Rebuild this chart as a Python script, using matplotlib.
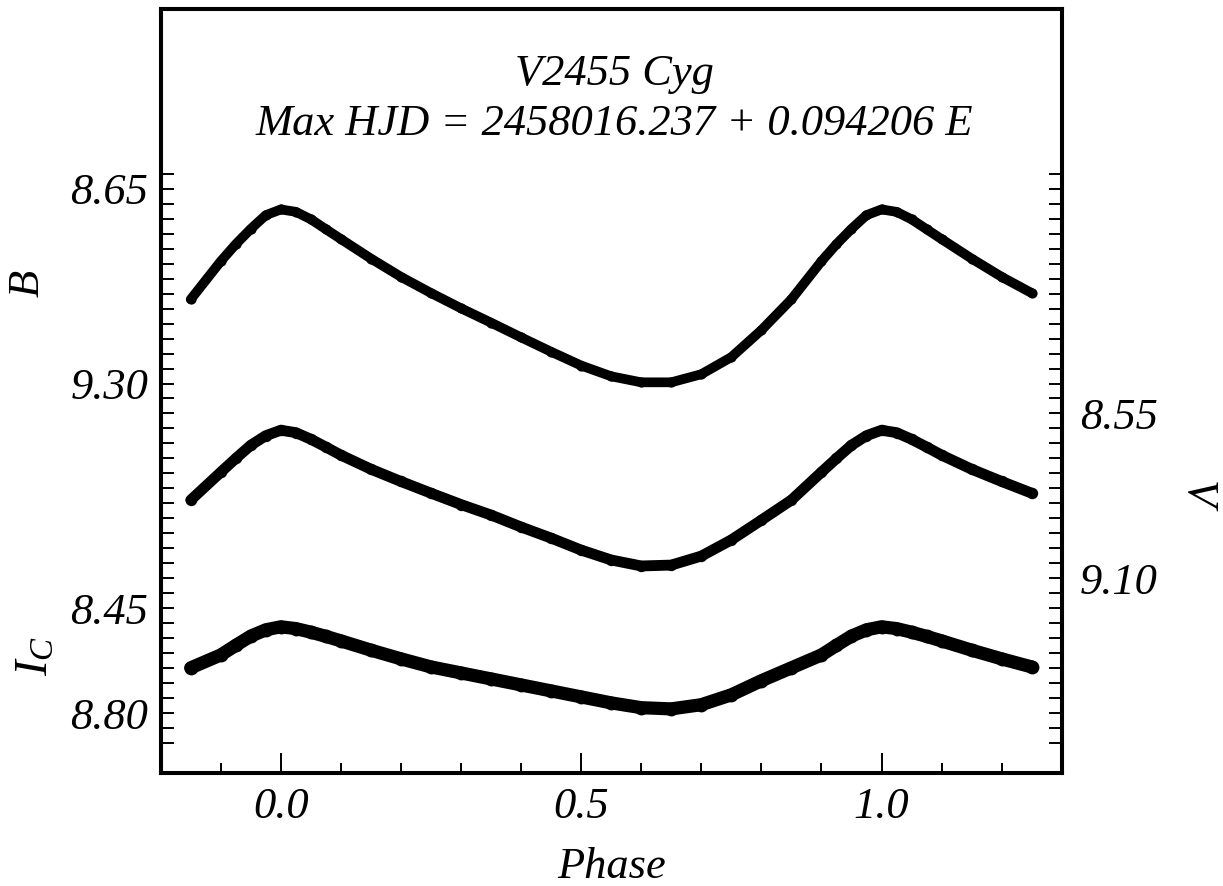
import numpy as np
import matplotlib
matplotlib.use("Agg")
import matplotlib.pyplot as plt
from matplotlib.ticker import FixedLocator, NullFormatter

plt.rcParams['font.family'] = ['Liberation Serif', 'DejaVu Serif']
plt.rcParams['font.style'] = 'italic'
plt.rcParams['mathtext.fontset'] = 'custom'
plt.rcParams['mathtext.it'] = 'Liberation Serif:italic'
plt.rcParams['mathtext.rm'] = 'Liberation Serif:italic'

# ---- data (one cycle, phase 0..1) ----
phase = [0.0, 0.025, 0.05, 0.075, 0.10, 0.15, 0.20, 0.25, 0.30, 0.35, 0.40, 0.45,
         0.50, 0.55, 0.60, 0.65, 0.70, 0.75, 0.80, 0.85, 0.90, 0.925, 0.95, 0.975]
mag_B = [8.719, 8.727, 8.752, 8.785, 8.818, 8.883, 8.944, 8.998, 9.049, 9.097, 9.146, 9.194,
         9.240, 9.276, 9.296, 9.296, 9.269, 9.212, 9.122, 9.019, 8.892, 8.835, 8.784, 8.738]
mag_V = [8.606, 8.614, 8.636, 8.662, 8.689, 8.736, 8.777, 8.816, 8.854, 8.889, 8.929, 8.966,
         9.006, 9.039, 9.059, 9.056, 9.026, 8.972, 8.906, 8.839, 8.746, 8.700, 8.656, 8.624]
mag_Ic = [8.512, 8.518, 8.530, 8.544, 8.559, 8.590, 8.619, 8.646, 8.666, 8.686, 8.706, 8.726,
          8.746, 8.766, 8.782, 8.786, 8.772, 8.739, 8.692, 8.649, 8.606, 8.574, 8.543, 8.522]

offset_V = 0.85   # V plotted on the B scale with this shift
offset_Ic = 1.60  # Ic plotted on the B scale with this shift

left_labels = ['8.65', '9.30', '8.45', '8.80']
left_label_pos = [8.65, 9.30, 8.45 + offset_Ic, 8.80 + offset_Ic]
right_labels = ['8.55', '9.10']
right_label_vals = [8.55, 9.10]
x_major = [0.0, 0.5, 1.0]
x_major_labels = ['0.0', '0.5', '1.0']

title_line1 = 'V2455 Cyg'
title_line2 = 'Max HJD = 2458016.237 + 0.094206 E'


def unwrap(ph, mg, lo=-0.16, hi=1.26):
    ph = np.asarray(ph); mg = np.asarray(mg)
    P = np.concatenate([ph - 1, ph, ph + 1])
    M = np.concatenate([mg, mg, mg])
    keep = (P >= lo) & (P <= hi)
    return P[keep], M[keep]


fig = plt.figure(figsize=(12.23, 8.86), dpi=100)
W, H = 1223, 886
x0, x1, ytop, ybot = 160.7, 1061.7, 9, 773
ax = fig.add_axes([x0 / W, 1 - ybot / H, (x1 - x0) / W, (ybot - ytop) / H])

bands = [(mag_B, 0.0, 7.0), (mag_V, offset_V, 7.8), (mag_Ic, offset_Ic, 9.5)]
for mg, off, lw in bands:
    P, M = unwrap(phase, np.asarray(mg) + off)
    ax.plot(P, M, color='black', lw=lw, solid_capstyle='round',
            solid_joinstyle='round')
    ax.plot(P, M, 'o', color='black', ms=lw * 1.05, mew=0)

ax.set_xlim(-0.2, 1.3)
ax.set_ylim(10.6, 8.05)

for s in ax.spines.values():
    s.set_linewidth(2.9)

# x ticks
ax.xaxis.set_major_locator(FixedLocator(x_major))
ax.set_xticklabels(x_major_labels)
ax.xaxis.set_minor_locator(FixedLocator([-0.1, 0.1, 0.2, 0.3, 0.4, 0.6, 0.7, 0.8, 0.9, 1.1, 1.2]))
ax.tick_params(axis='x', which='major', direction='in', length=14.5, width=1.4,
               labelsize=32, pad=10, top=False)
ax.tick_params(axis='x', which='minor', direction='in', length=7, width=1.4, top=False)

# left y ticks
all_y = [round(8.60 + 0.05 * i, 2) for i in range(39)]
ax.yaxis.set_major_locator(FixedLocator(left_label_pos))
ax.set_yticklabels(left_labels)
ax.yaxis.set_minor_locator(FixedLocator([v for v in all_y if v not in left_label_pos]))
ax.yaxis.set_minor_formatter(NullFormatter())
ax.tick_params(axis='y', which='both', direction='in', length=9.4, width=1.4,
               labelsize=32, pad=9, right=False)

# right y axis (V)
axr = ax.twinx()
axr.set_ylim(10.6 - offset_V, 8.05 - offset_V)
axr.yaxis.set_major_locator(FixedLocator(right_label_vals))
axr.set_yticklabels(right_labels)
axr.yaxis.set_minor_locator(FixedLocator([round(v - offset_V, 2) for v in all_y
                                          if round(v - offset_V, 2) not in right_label_vals]))
axr.yaxis.set_minor_formatter(NullFormatter())
axr.tick_params(axis='y', which='both', direction='in', length=9.4, width=1.4,
                labelsize=32, pad=13)
for s in axr.spines.values():
    s.set_linewidth(2.9)

# axis labels
fig.text(28 / W, 1 - 283 / H, 'B', rotation=90, fontsize=32, ha='center', va='center')
fig.text(36 / W, 1 - 656 / H, r'$I_C$', rotation=90, fontsize=34, ha='center', va='center')
fig.text(1197 / W, 1 - 495 / H, 'V', rotation=270, fontsize=32, ha='center', va='center')
fig.text(612 / W, 1 - 878 / H, 'Phase', fontsize=32, ha='center', va='baseline')

# title inside the plot
fig.text(614 / W, 1 - 85 / H, title_line1, fontsize=32, ha='center', va='baseline')
fig.text(614 / W, 1 - 135 / H, title_line2, fontsize=32, ha='center', va='baseline')

fig.savefig('out.png', dpi=100)
